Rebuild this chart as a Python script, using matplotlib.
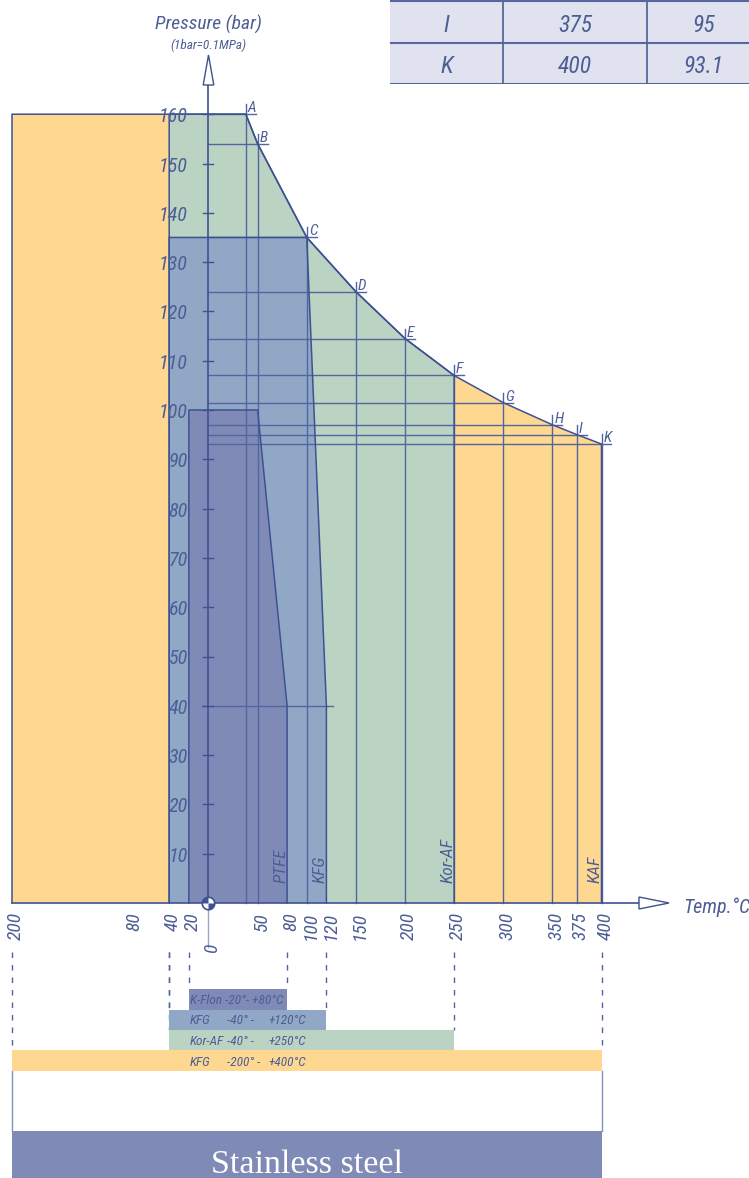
import os
import matplotlib
matplotlib.use('Agg')
import matplotlib.pyplot as plt
from matplotlib import font_manager as fm
from matplotlib.font_manager import FontProperties
from matplotlib.path import Path
from matplotlib.patches import Rectangle

# rating curve points (letters from the table)
point_names = ['A', 'B', 'C', 'D', 'E', 'F', 'G', 'H', 'I', 'K']
point_temp = [38, 50, 100, 150, 200, 250, 300, 350, 375, 400]
point_press = [160, 154, 135, 124, 114.5, 107, 101.5, 97, 95, 93.1]

# material envelopes
kaf_range = [-200, 400]
koraf_range = [-40, 250]
kfg_temp = [-40, -40, 100, 120, 120]
kfg_press = [0, 135, 135, 40, 0]
ptfe_temp = [-20, -20, 50, 80, 80]
ptfe_press = [0, 100, 100, 40, 0]

region_names = ['PTFE', 'KFG', 'Kor-AF', 'KAF']
region_edge = [80, 120, 250, 400]

x_ticks = [-200, -80, -40, -20, 0, 50, 80, 100, 120, 150, 200, 250, 300, 350, 375, 400]
y_ticks = list(range(10, 170, 10))

bar_names = ['K-Flon', 'KFG', 'Kor-AF', 'KFG']
bar_lo = [-20, -40, -40, -200]
bar_hi = [80, 120, 250, 400]

table_rows = ['I', 'K']

ORANGE = '#FED891'
GREEN = '#BBD3C3'
BLUE = '#91A7C6'
DARK = '#7F8BB6'
LINE = '#3E5292'
INNER = '#5365A0'
TEXT = '#4D5E95'
TABLE_BG = '#E0E3EF'
bar_colors = [DARK, BLUE, GREEN, ORANGE]


## find a condensed italic face, the chart uses one everywhere
def pick_font():
    files = [f.fname for f in fm.fontManager.ttflist]
    prefs = ['RobotoCondensed-Italic', 'RobotoCondensed-LightItalic', 'LiberationSansNarrow-Italic',
             'DejaVuSansCondensed-Oblique', 'NotoSans-CondensedItalic', 'OpenSans-CondensedItalic']
    for p in prefs:
        for f in files:
            if os.path.basename(f).startswith(p):
                return f
    for f in files:
        b = os.path.basename(f).lower()
        if ('condensed' in b or 'narrow' in b) and ('italic' in b or 'oblique' in b) \
                and 'bold' not in b and 'extra' not in b and 'black' not in b and 'medium' not in b:
            return f
    return None


FONT_FILE = pick_font()


def fp(size):
    if FONT_FILE:
        return FontProperties(fname=FONT_FILE, size=size)
    return FontProperties(family='Liberation Sans', style='italic', size=size * 0.85)


W, H = 749, 1178
X0, SX = 208.5, 0.9825   # pixel of 0 degC, px per degC
Y0, SY = 903.0, 4.93     # pixel of 0 bar, px per bar


def dx(p):
    return p / SX


def dy(p):
    return p / SY


def xpix(p):
    return (p - X0) / SX


def ypix(p):
    return (Y0 - p) / SY


fig = plt.figure(figsize=(W / 100, H / 100), dpi=100)
ax = fig.add_axes([0, 0, 1, 1])
ax.set_xlim(xpix(0), xpix(W))
ax.set_ylim(ypix(H), ypix(0))
ax.axis('off')

## envelopes
kaf_t = [kaf_range[0], kaf_range[0]] + point_temp + [kaf_range[1]]
kaf_p = [0, point_press[0]] + point_press + [0]
n_kor = sum(1 for t in point_temp if t <= koraf_range[1])
kor_t = [koraf_range[0], koraf_range[0]] + point_temp[:n_kor] + [koraf_range[1]]
kor_p = [0, point_press[0]] + point_press[:n_kor] + [0]

ax.fill(kaf_t, kaf_p, color=ORANGE, lw=0, zorder=1)
ax.fill(kor_t, kor_p, color=GREEN, lw=0, zorder=1.1)
ax.fill(kfg_temp, kfg_press, color=BLUE, lw=0, zorder=1.2)
ax.fill(ptfe_temp, ptfe_press, color=DARK, lw=0, zorder=1.3)

# guide lines to each point
for t, p in zip(point_temp, point_press):
    ax.plot([t, t], [0, p + dy(10)], color=INNER, lw=1.0, zorder=3)
    ax.plot([0, t + dx(10)], [p, p], color=INNER, lw=1.0, zorder=3)
ax.plot([-dx(6), kfg_temp[-1] + dx(7)], [40, 40], color=INNER, lw=1.0, zorder=3)

for tt, pp in [(kaf_t, kaf_p), (kor_t, kor_p), (kfg_temp, kfg_press), (ptfe_temp, ptfe_press)]:
    ax.plot(tt, pp, color=LINE, lw=1.1, zorder=4)

for name, t, p in zip(point_names, point_temp, point_press):
    ax.text(t + dx(2), p + dy(2), name, ha='left', va='baseline', fontproperties=fp(11),
            color=TEXT, zorder=6)

for name, e in zip(region_names, region_edge):
    ax.text(e + dx(1.5), ypix(883), name, rotation=90, ha='right', va='bottom',
            fontproperties=fp(12.5), color=TEXT, zorder=6)

## axes
ax.plot([kaf_range[0], xpix(639)], [0, 0], color=LINE, lw=1.2, zorder=5)
ax.fill([xpix(639), xpix(669), xpix(639)], [dy(6), 0, -dy(6)],
        facecolor='white', edgecolor=LINE, lw=1.0, zorder=5)
ax.plot([0, 0], [0, ypix(85)], color=LINE, lw=1.2, zorder=5)
ax.plot([0, 0], [ypix(947), 0], color='#9AA5C8', lw=1.0, zorder=5)
ax.fill([-dx(5.3), 0, dx(5.3)], [ypix(85), ypix(55), ypix(85)],
        facecolor='white', edgecolor=LINE, lw=1.0, zorder=5)

for v in y_ticks:
    ax.plot([-dx(5), dx(5)], [v, v], color=LINE, lw=1.0, zorder=5)
    ax.text(xpix(188), v - dy(8), str(v), ha='right', va='baseline', fontproperties=fp(14.5),
            color=TEXT, zorder=6)

for v in x_ticks:
    ax.text(v + dx(4), ypix(944) if v == 0 else ypix(912), str(abs(v)), rotation=90,
            ha='center', va='top', fontproperties=fp(14), color=TEXT, zorder=6)

# origin marker
ax.plot(0, 0, 'o', ms=9, mfc='white', mec=LINE, mew=1.2, zorder=7)
for a in (90, 270):
    ax.plot(0, 0, marker=Path.wedge(a, a + 90), ms=9, color=LINE, mew=0, zorder=8)

ax.text(0, ypix(30), 'Pressure (bar)', ha='center', va='baseline', fontproperties=fp(14), color=TEXT)
ax.text(0, ypix(49), '(1bar=0.1MPa)', ha='center', va='baseline', fontproperties=fp(9.5), color=TEXT)
ax.text(xpix(683), ypix(913), 'Temp.°C', ha='left', va='baseline', fontproperties=fp(14.5), color=TEXT)

## range bars below
bar_h = 20.5
for i, (name, lo, hi, c) in enumerate(zip(bar_names, bar_lo, bar_hi, bar_colors)):
    top = 989 + i * bar_h
    for x in (lo, hi):
        ax.plot([x, x], [ypix(952), ypix(top)], color=INNER, lw=1.0, ls=(0, (4, 5)), zorder=2)
    ax.fill_between([lo, hi], ypix(top + bar_h), ypix(top), color=c, lw=0, zorder=3)
    base = ypix(top + 15)
    if i == 0:
        ax.text(xpix(190), base, f'{name} {lo}°- +{hi}°C', fontproperties=fp(9.5), color=TEXT, zorder=6)
    else:
        ax.text(xpix(190), base, name, fontproperties=fp(9.5), color=TEXT, zorder=6)
        ax.text(xpix(227), base, f'{lo}° -', fontproperties=fp(9.5), color=TEXT, zorder=6)
        ax.text(xpix(268), base, f'+{hi}°C', fontproperties=fp(9.5), color=TEXT, zorder=6)

# stainless steel block
for x in kaf_range:
    ax.plot([x, x], [ypix(1071), ypix(1131)], color='#8391BD', lw=1.0, zorder=2)
ax.fill_between(kaf_range, ypix(1190), ypix(1131), color=DARK, lw=0, zorder=3)
ax.text(sum(kaf_range) / 2, ypix(1173), 'Stainless steel', ha='center', va='baseline',
        fontsize=24.5, color='white', family='Liberation Serif', zorder=6)

## table of the last points (top right)
tab = fig.add_axes([390 / W, 1 - 84 / H, 370 / W, 84 / H])
tab.set_xlim(0, 370)
tab.set_ylim(84, 0)
tab.axis('off')
col_edges = [0, 113, 257, 370]
row_h = 41.5
tab.add_patch(Rectangle((0, 0), 370, 2 * row_h, color=TABLE_BG, lw=0))
for j in range(3):
    tab.plot([0, 370], [1 + j * row_h, 1 + j * row_h], color='#56679E', lw=1.5)
for x in col_edges[1:3]:
    tab.plot([x, x], [0, 2 * row_h + 1], color='#56679E', lw=1.3)
for r, name in enumerate(table_rows):
    k = point_names.index(name)
    cells = [name, f'{point_temp[k]:g}', f'{point_press[k]:g}']
    for c, s in enumerate(cells):
        tab.text((col_edges[c] + col_edges[c + 1]) / 2, r * row_h + 31.5, s,
                 ha='center', va='baseline', fontproperties=fp(17), color=TEXT)

plt.savefig('out.png', dpi=100)
plt.close()
